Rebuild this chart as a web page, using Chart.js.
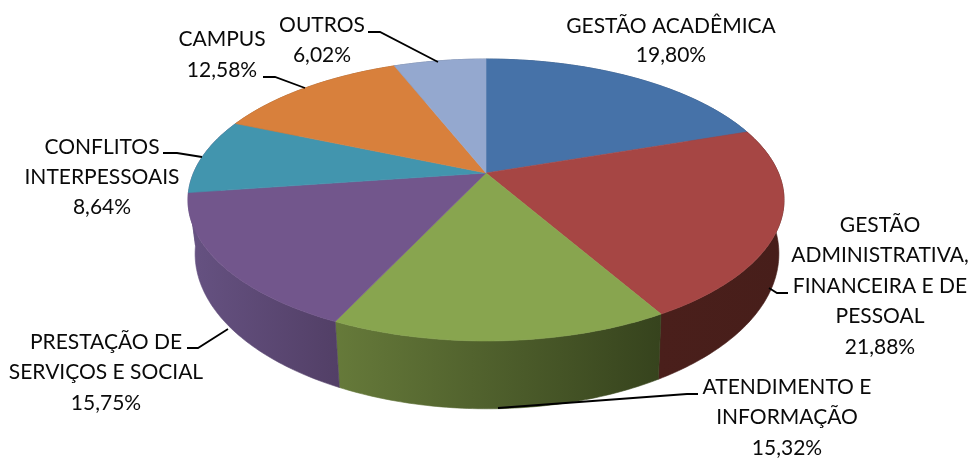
<!DOCTYPE html>
<html>
<head>
<meta charset="utf-8">
<style>
  html, body { margin: 0; padding: 0; background: #fff; }
  canvas { display: block; }
</style>
</head>
<body>
<canvas id="pieChart" width="969" height="460"></canvas>
<script src="https://cdn.jsdelivr.net/npm/chart.js@4"></script>
<script>
// dados
const categories = [
  ['GESTÃO ACADÊMICA'],
  ['GESTÃO', 'ADMINISTRATIVA,', 'FINANCEIRA E DE', 'PESSOAL'],
  ['ATENDIMENTO E', 'INFORMAÇÃO'],
  ['PRESTAÇÃO DE', 'SERVIÇOS E SOCIAL'],
  ['CONFLITOS', 'INTERPESSOAIS'],
  ['CAMPUS'],
  ['OUTROS']
];
const values = [19.80, 21.88, 15.32, 15.75, 8.64, 12.58, 6.02];

// cores
const topColors = ['#4672a8', '#a64644', '#88a54f', '#72568c', '#4295ae', '#d8803c', '#94a8cf'];
// a parede da fatia azul-petróleo só aparece como um filete junto à roxa
const wallLeft = ['#2c4a70', '#4a1f1b', '#667a3a', '#665282', '#665282', '#8f5527', '#616f8b'];
const wallRight = ['#2c4a70', '#471e1a', '#36431d', '#523f66', '#665282', '#8f5527', '#616f8b'];

// posição dos rótulos: centro x, y da primeira linha, passo, linha de chamada
const labelLayout = [
  { x: 671, y: 26, step: 29.5, leader: null },
  { x: 880, y: 225, step: 30.5, leader: [[788, 293], [777, 293], [769, 288]] },
  { x: 787, y: 387, step: 30.5, leader: [[698, 394], [687, 394], [498, 408]] },
  { x: 106, y: 342, step: 30.5, leader: [[187, 348], [198, 348], [228, 329]] },
  { x: 102, y: 147, step: 30, leader: [[163, 153], [177, 153], [202, 157]] },
  { x: 222, y: 39, step: 31, leader: [[263, 77], [275, 77], [305, 88]] },
  { x: 322, y: 25, step: 30, leader: [[368, 32], [380, 32], [438, 62]] }
];

// projeção em perspectiva do disco
const view = { cx: 486, cy: 173, rx: 292.5, ry: 135.8, k: 0.1915 };
const floor = { cx: 487, cy: 224, rx: 286.5, ry: 149.4, k: 0.1915 };

function project(a, p) {
  const u = Math.cos(a), v = Math.sin(a);
  const w = 1 - p.k * v;
  return [p.cx + p.rx * u / w, p.cy + p.ry * v / w];
}

function arcPoints(start, end, p) {
  const n = Math.max(2, Math.ceil((end - start) / 0.015));
  const pts = [];
  for (let i = 0; i <= n; i++) pts.push(project(start + (end - start) * i / n, p));
  return pts;
}

function tracePath(ctx, pts) {
  ctx.beginPath();
  pts.forEach((pt, i) => i ? ctx.lineTo(pt[0], pt[1]) : ctx.moveTo(pt[0], pt[1]));
  ctx.closePath();
}

// cada fatia desenhada pelo próprio elemento, com os ângulos calculados pelo Chart.js
Chart.ArcElement.prototype.draw = function (ctx) {
  const pts = [[view.cx, view.cy]].concat(arcPoints(this.startAngle, this.endAngle, view));
  ctx.save();
  tracePath(ctx, pts);
  ctx.fillStyle = this.options.backgroundColor;
  ctx.strokeStyle = this.options.backgroundColor;
  ctx.lineWidth = 0.6;
  ctx.fill();
  ctx.stroke();
  ctx.restore();
};

const wallPlugin = {
  id: 'wall',
  beforeDatasetsDraw(chart) {
    const ctx = chart.ctx;
    const arcs = chart.getDatasetMeta(0).data;
    arcs.forEach((arc, i) => {
      const upper = arcPoints(arc.startAngle, arc.endAngle, view);
      const lower = arcPoints(arc.startAngle, arc.endAngle, floor).reverse();
      const all = upper.concat(lower);
      const xs = all.map(pt => pt[0]);
      const grad = ctx.createLinearGradient(Math.min(...xs), 0, Math.max(...xs), 0);
      grad.addColorStop(0, wallLeft[i]);
      grad.addColorStop(1, wallRight[i]);
      ctx.save();
      tracePath(ctx, all);
      ctx.fillStyle = grad;
      ctx.strokeStyle = grad;
      ctx.lineWidth = 0.6;
      ctx.fill();
      ctx.stroke();
      ctx.restore();
    });
  }
};

const labelPlugin = {
  id: 'sliceLabels',
  afterDatasetsDraw(chart) {
    const ctx = chart.ctx;
    ctx.save();
    ctx.font = '21px Lato, sans-serif';
    ctx.fillStyle = '#0a0a0a';
    ctx.textAlign = 'center';
    ctx.textBaseline = 'middle';
    ctx.strokeStyle = '#000';
    ctx.lineWidth = 1.8;
    categories.forEach((lines, i) => {
      const pos = labelLayout[i];
      const text = lines.concat(values[i].toFixed(2).replace('.', ',') + '%');
      text.forEach((t, j) => ctx.fillText(t, pos.x, pos.y + j * pos.step));
      if (pos.leader) {
        ctx.beginPath();
        pos.leader.forEach((pt, j) => j ? ctx.lineTo(pt[0], pt[1]) : ctx.moveTo(pt[0], pt[1]));
        ctx.stroke();
      }
    });
    ctx.restore();
  }
};

new Chart(document.getElementById('pieChart').getContext('2d'), {
  type: 'pie',
  data: {
    labels: categories.map(c => c.join(' ')),
    datasets: [{ data: values, backgroundColor: topColors, borderWidth: 0 }]
  },
  options: {
    responsive: false,
    animation: false,
    events: [],
    plugins: { legend: { display: false }, tooltip: { enabled: false } }
  },
  plugins: [wallPlugin, labelPlugin]
});
</script>
</body>
</html>
